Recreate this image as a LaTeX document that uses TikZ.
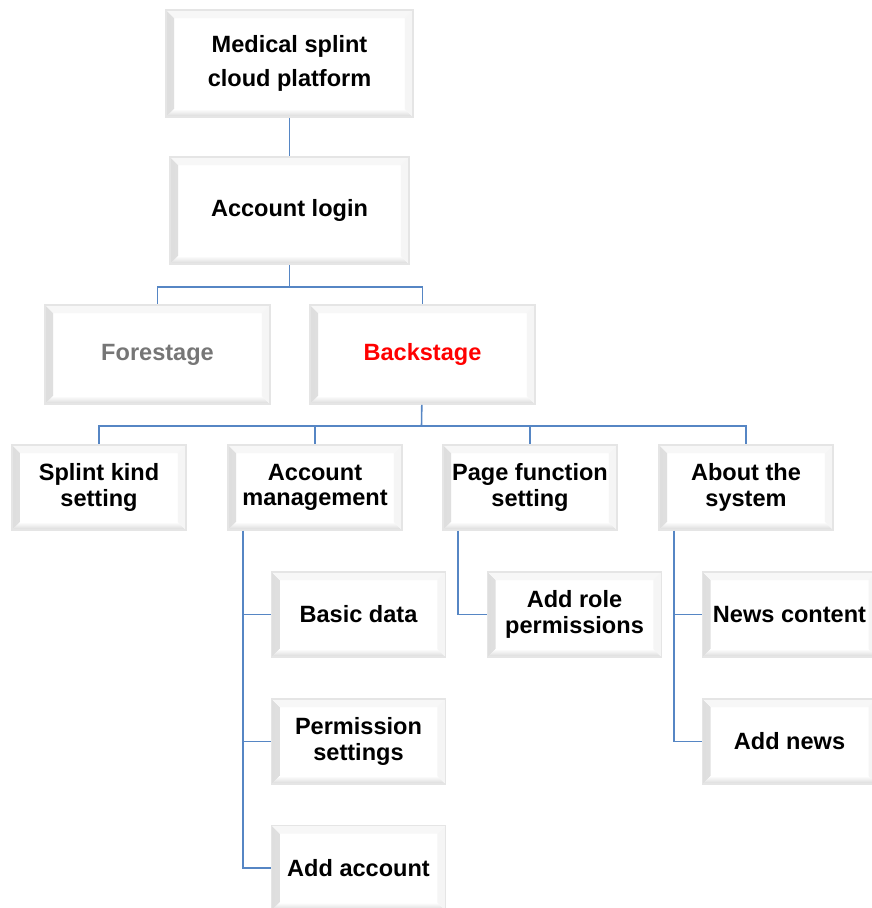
\documentclass[tikz,border=0pt]{standalone}
\usepackage{fontspec}
\setmainfont{Liberation Sans}
\usepackage{xcolor}
\usetikzlibrary{positioning, calc}

\definecolor{linkblue}{RGB}{86,134,196}
\definecolor{foregray}{RGB}{118,118,118}

\tikzset{
  bevelbox/.style={draw=black!10, line width=1pt, fill=white, align=center,
    font=\fontsize{13.4}{14.6}\selectfont\bfseries,
    path picture={
      % left and bottom bevel (darker), top and right (lighter)
      \shade[left color=black!13, right color=white] (path picture bounding box.south west) -- (path picture bounding box.north west)
        -- ([shift={(8,8)}]path picture bounding box.north west)
        -- ([shift={(8,-8)}]path picture bounding box.south west) -- cycle;
      \shade[bottom color=black!15, top color=white] (path picture bounding box.south west) -- (path picture bounding box.south east)
        -- ([shift={(-8,-8)}]path picture bounding box.south east)
        -- ([shift={(8,-8)}]path picture bounding box.south west) -- cycle;
      \fill[black!3] (path picture bounding box.north west) -- (path picture bounding box.north east)
        -- ([shift={(-8,8)}]path picture bounding box.north east)
        -- ([shift={(8,8)}]path picture bounding box.north west) -- cycle;
      \fill[black!4] (path picture bounding box.north east) -- (path picture bounding box.south east)
        -- ([shift={(-8,-8)}]path picture bounding box.south east)
        -- ([shift={(-8,8)}]path picture bounding box.north east) -- cycle;
    }},
  topbox/.style={bevelbox, minimum height=2.14cm},
  midbox/.style={bevelbox, minimum width=4.5cm, minimum height=1.98cm},
  subbox/.style={bevelbox, minimum width=3.48cm, minimum height=1.7cm},
  link/.style={draw=linkblue, line width=0.9pt}
}

\begin{document}
\begin{tikzpicture}[x=0.02cm, y=-0.02cm]
\useasboundingbox (0,0) rectangle (871,908);

% top levels
\node[topbox, minimum width=4.94cm, font=\fontsize{13.4}{19.3}\selectfont\bfseries] (platform) at (289.5,63.5) {Medical splint\\cloud platform};
\node[topbox, minimum width=4.78cm] (login) at (289.5,210.5) {Account login};
\node[midbox, text=foregray] (fore) at (157.5,354.5) {Forestage};
\node[midbox, text=red] (back) at (422.5,354.5) {Backstage};

% backstage modules
\node[subbox] (kind) at (99,487.5) {Splint kind\\setting};
\node[subbox] (manage) at (315,487.5) {Account\\management};
\node[subbox] (page) at (530,487.5) {Page function\\setting};
\node[subbox] (about) at (746,487.5) {About the\\system};

% sub items
\node[subbox] (basic) at (358.5,614.5) {Basic data};
\node[subbox] (perm) at (358.5,741.5) {Permission\\settings};
\node[subbox] (addacc) at (358.5,868) {Add account};
\node[subbox] (role) at (574.5,614.5) {Add role\\permissions};
\node[subbox] (news) at (789.5,614.5) {News content};
\node[subbox] (addnews) at (789.5,741.5) {Add news};

% connectors
\coordinate (j1) at (289.5,287);
\coordinate (j2) at (421.5,426);
\draw[link] (platform) -- (login);
\draw[link] (login) -- (j1);
\draw[link] (j1) -| (fore.north);
\draw[link] (j1) -| (back.north);
\draw[link] (back) -- (j2);
\draw[link] (j2) -| (kind.north);
\draw[link] (j2) -| (manage.north);
\draw[link] (j2) -| (page.north);
\draw[link] (j2) -| (about.north);

\draw[link] ([xshift=-72*0.02cm]manage.south) |- (basic.west);
\draw[link] ([xshift=-72*0.02cm]manage.south) |- (perm.west);
\draw[link] ([xshift=-72*0.02cm]manage.south) |- (addacc.west);
\draw[link] ([xshift=-72*0.02cm]page.south) |- (role.west);
\draw[link] ([xshift=-72*0.02cm]about.south) |- (news.west);
\draw[link] ([xshift=-72*0.02cm]about.south) |- (addnews.west);
\end{tikzpicture}
\end{document}
